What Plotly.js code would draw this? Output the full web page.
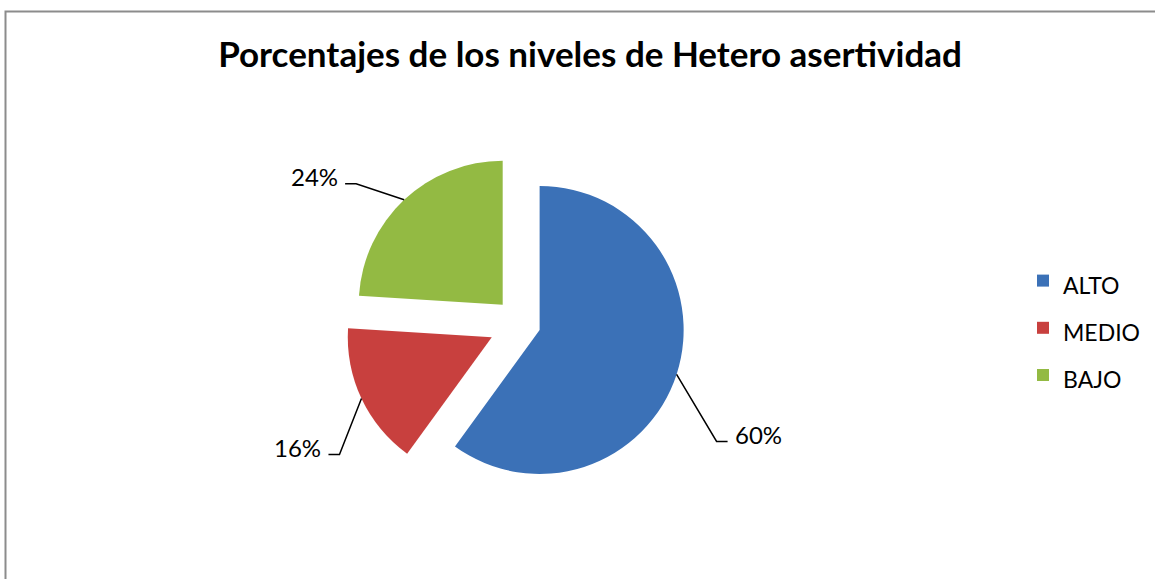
<!DOCTYPE html>
<html><head><meta charset="utf-8">
<script src="https://cdn.plot.ly/plotly-3.0.1.min.js"></script>
<style>html,body{margin:0;padding:0;background:#fff;overflow:hidden;}#chart{width:1155px;height:579px;}</style>
</head><body><div id="chart"></div>
<script>
const chartTitle = 'Porcentajes de los niveles de Hetero asertividad';
const categories = ['ALTO', 'MEDIO', 'BAJO'];
const values = [60, 16, 24];
const colors = ['#3b71b7', '#c8403e', '#93ba43'];
const pulls = [0.14, 0.22, 0.18];

const W = 1155, H = 579;
const domainX = [0.2706, 0.6306], domainY = [0.1375, 0.7444];
const total = values.reduce((a, b) => a + b, 0);
const maxPull = Math.max(...pulls);
const r = Math.min(W * (domainX[1] - domainX[0]), H * (domainY[1] - domainY[0])) / 2 / (1 + maxPull);
const cx = W * (domainX[0] + domainX[1]) / 2;
const cy = H * (1 - (domainY[0] + domainY[1]) / 2);
const elbowOffsets = [[40, 67], [-22, 56], [-48, -16]];
const px = x => x / W, py = y => 1 - y / H;

const shapes = [{
  type: 'path', xref: 'paper', yref: 'paper',
  path: `M ${px(5.5)},0 L ${px(5.5)},${py(11.5)} L 1,${py(11.5)}`,
  line: {color: '#8c8c8c', width: 2}, layer: 'above'
}];
const annotations = [];
let cum = 0;
values.forEach((v, i) => {
  const a0 = cum / total * 2 * Math.PI; cum += v;
  const a1 = cum / total * 2 * Math.PI;
  const mid = (a0 + a1) / 2;
  const dx = Math.sin(mid), dy = -Math.cos(mid);
  const tipX = cx + (1 + pulls[i]) * r * dx, tipY = cy + (1 + pulls[i]) * r * dy;
  const ex = tipX + elbowOffsets[i][0], ey = tipY + elbowOffsets[i][1];
  const side = elbowOffsets[i][0] > 0 ? 1 : -1;
  const hx = ex + side * 11;
  shapes.push({
    type: 'path', xref: 'paper', yref: 'paper',
    path: `M ${px(tipX)},${py(tipY)} L ${px(ex)},${py(ey)} L ${px(hx)},${py(ey)}`,
    line: {color: '#000000', width: 1.5}
  });
  annotations.push({
    xref: 'paper', yref: 'paper', x: px(hx + side * 5), y: py(ey - 7),
    xanchor: side > 0 ? 'left' : 'right', yanchor: 'middle', showarrow: false,
    text: Math.round(v / total * 100) + '%',
    font: {family: 'Lato, sans-serif', size: 24, color: '#000'}
  });
});

const data = [{
  type: 'pie',
  labels: categories.map(c => `<span style="font-size:23px">${c}</span>`),
  values: values,
  sort: false,
  direction: 'clockwise',
  rotation: 0,
  pull: pulls,
  marker: {colors: colors, line: {width: 0}},
  textinfo: 'none',
  hoverinfo: 'skip',
  domain: {x: domainX, y: domainY}
}];

const layout = {
  width: W, height: H,
  margin: {l: 0, r: 0, t: 0, b: 0, autoexpand: false},
  paper_bgcolor: '#ffffff',
  title: {
    text: '<b>' + chartTitle + '</b>',
    font: {family: 'Lato, sans-serif', size: 35, color: '#000'},
    x: 590 / W, xanchor: 'center', xref: 'paper',
    y: py(55), yanchor: 'middle', yref: 'container'
  },
  showlegend: true,
  legend: {
    x: 1023 / W, xanchor: 'left', y: py(252), yanchor: 'top',
    font: {family: 'Lato, sans-serif', size: 34, color: '#000'},
    bgcolor: 'rgba(0,0,0,0)'
  },
  shapes: shapes,
  annotations: annotations
};

Plotly.newPlot('chart', data, layout, {displayModeBar: false, staticPlot: true});
</script>
</body></html>
